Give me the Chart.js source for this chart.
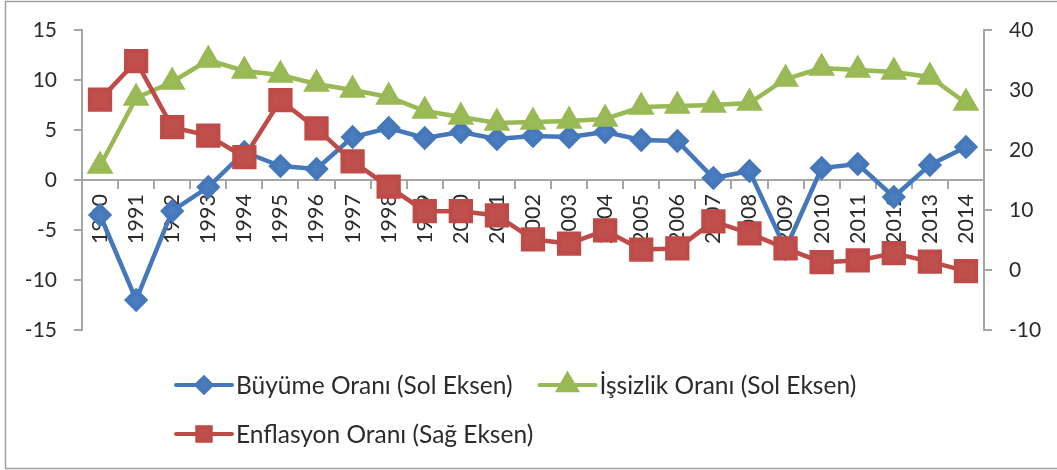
<!DOCTYPE html>
<html>
<head>
<meta charset="utf-8">
<script src="https://cdn.jsdelivr.net/npm/chart.js@4/dist/chart.umd.min.js"></script>
<style>
  html, body { margin: 0; padding: 0; background: #fff; }
  #wrap { width: 1057px; height: 470px; }
</style>
</head>
<body>
<div id="wrap"><canvas id="grafik" width="1057" height="470"></canvas></div>
<script>
// Veriler (grafikten okunan yaklaşık değerler)
const yillar = ['1990', '1991', '1992', '1993', '1994', '1995', '1996', '1997', '1998', '1999',
    '2000', '2001', '2002', '2003', '2004', '2005', '2006', '2007', '2008', '2009',
    '2010', '2011', '2012', '2013', '2014'];
const buyume = [-3.5, -12.0, -3.1, -0.7, 2.8, 1.4, 1.1, 4.3, 5.2, 4.2, 4.8, 4.1, 4.4, 4.3, 4.8,
    4.0, 3.9, 0.2, 0.9, -6.9, 1.2, 1.6, -1.7, 1.5, 3.3];
const issizlik = [1.4, 8.2, 9.8, 12.0, 10.9, 10.5, 9.6, 9.0, 8.3, 6.9, 6.3, 5.7, 5.8, 5.9, 6.1,
    7.3, 7.4, 7.5, 7.7, 10.1, 11.2, 11.0, 10.8, 10.3, 7.7];
const enflasyon = [28.4, 34.8, 23.8, 22.4, 18.8, 28.3, 23.6, 18.1, 13.9, 9.8, 9.8, 9.1, 5.1, 4.4, 6.6,
    3.4, 3.6, 8.1, 6.1, 3.6, 1.3, 1.6, 2.8, 1.4, -0.2];
const solEksen = { min: -15, max: 15, adim: 5 };
const sagEksen = { min: -10, max: 40, adim: 10 };

const yazi = "Lato, 'Liberation Sans', sans-serif";
const yaziRengi = '#2b2b2b';
const eksenRengi = '#a6a6a6';

// Çerçeve
const cerceve = {
    id: 'cerceve',
    beforeDraw(chart) {
        const ctx = chart.ctx;
        ctx.save();
        ctx.fillStyle = '#fff';
        ctx.fillRect(0, 0, chart.width, chart.height);
        ctx.strokeStyle = '#a0a0a0';
        ctx.lineWidth = 1.5;
        ctx.strokeRect(5.5, 1.5, chart.width + 10, chart.height - 3);
        ctx.restore();
    }
};

// Excel tarzı gösterge: çizgi + işaret
const gosterge = {
    id: 'gosterge',
    afterDraw(chart) {
        const ctx = chart.ctx;
        const ds = chart.data.datasets;
        ctx.save();
        ctx.font = '24.5px ' + yazi;
        ctx.textBaseline = 'middle';
        const w1 = ctx.measureText(ds[0].label).width;
        const ogeler = [
            { d: ds[0], x: 176, y: 385, r: 7.5 },
            { d: ds[1], x: 236 + w1 + 27, y: 385, r: 10.5 },
            { d: ds[2], x: 176, y: 434, r: 9.5 }
        ];
        ogeler.forEach(o => {
            ctx.strokeStyle = o.d.borderColor;
            ctx.lineWidth = 4;
            ctx.lineCap = 'round';
            ctx.beginPath();
            ctx.moveTo(o.x, o.y);
            ctx.lineTo(o.x + 56, o.y);
            ctx.stroke();
            ctx.fillStyle = o.d.pointBackgroundColor;
            ctx.strokeStyle = o.d.pointBorderColor;
            Chart.helpers.drawPoint(ctx, {
                pointStyle: o.d.pointStyle,
                radius: o.r,
                rotation: 0,
                borderWidth: 1
            }, o.x + 28, o.y);
            ctx.fillStyle = yaziRengi;
            ctx.fillText(o.d.label, o.x + 60, o.y + 1);
        });
        ctx.restore();
    }
};

new Chart(document.getElementById('grafik'), {
    type: 'line',
    data: {
        labels: yillar,
        datasets: [
            {
                label: 'Büyüme Oranı (Sol Eksen)',
                data: buyume,
                yAxisID: 'y',
                borderColor: '#4577bb',
                backgroundColor: '#4a7dbd',
                pointBackgroundColor: '#4a7dbd',
                pointBorderColor: '#4577bb',
                pointStyle: 'rectRot',
                pointRadius: 9,
                borderWidth: 4.5,
                order: 3
            },
            {
                label: 'İşsizlik Oranı (Sol Eksen)',
                data: issizlik,
                yAxisID: 'y',
                borderColor: '#98b954',
                backgroundColor: '#9bbb59',
                pointBackgroundColor: '#9bbb59',
                pointBorderColor: '#98b954',
                pointStyle: 'triangle',
                pointRadius: 11,
                borderWidth: 4.5,
                order: 2
            },
            {
                label: 'Enflasyon Oranı (Sağ Eksen)',
                data: enflasyon,
                yAxisID: 'y1',
                borderColor: '#be4b48',
                backgroundColor: '#c0504d',
                pointBackgroundColor: '#c0504d',
                pointBorderColor: '#be4b48',
                pointStyle: 'rect',
                pointRadius: 14,
                borderWidth: 4.5,
                order: 1
            }
        ]
    },
    options: {
        responsive: false,
        animation: false,
        layout: { padding: { top: 30, bottom: 140, left: 0, right: 0 } },
        plugins: {
            legend: { display: false },
            tooltip: { enabled: false }
        },
        scales: {
            x: {
                position: { y: 0 },
                offset: true,
                z: 1,
                afterFit(s) { s.height = 0; },
                border: { color: eksenRengi, width: 2 },
                grid: { offset: true, drawOnChartArea: false, tickLength: 8, color: eksenRengi, lineWidth: 2 },
                ticks: {
                    color: yaziRengi,
                    font: { family: yazi, size: 21.5 },
                    minRotation: 90,
                    maxRotation: 90,
                    autoSkip: false,
                    padding: 6
                }
            },
            y: {
                position: 'left',
                min: solEksen.min,
                max: solEksen.max,
                afterFit(s) { s.width = 82; },
                border: { color: eksenRengi, width: 2 },
                grid: { drawOnChartArea: false, tickLength: 8, color: eksenRengi, lineWidth: 2 },
                ticks: {
                    stepSize: solEksen.adim,
                    color: yaziRengi,
                    font: { family: yazi, size: 21 },
                    padding: 17
                }
            },
            y1: {
                position: 'right',
                min: sagEksen.min,
                max: sagEksen.max,
                afterFit(s) { s.width = 73; },
                border: { color: eksenRengi, width: 2 },
                grid: { drawOnChartArea: false, tickLength: 8, color: eksenRengi, lineWidth: 2 },
                ticks: {
                    stepSize: sagEksen.adim,
                    color: yaziRengi,
                    font: { family: yazi, size: 21 },
                    padding: 17
                }
            }
        }
    },
    plugins: [cerceve, gosterge]
});
</script>
</body>
</html>
